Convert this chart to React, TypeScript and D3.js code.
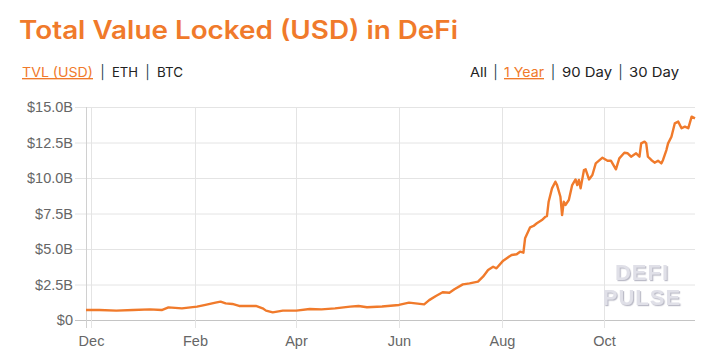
import React from "react";
import * as d3 from "d3";

const dates: string[] = [
  "2019-11-28","2019-12-06","2019-12-16","2019-12-26","2020-01-05","2020-01-12","2020-01-16","2020-01-24",
  "2020-02-02","2020-02-07","2020-02-13","2020-02-16","2020-02-19","2020-02-23","2020-02-27","2020-03-04",
  "2020-03-08","2020-03-12","2020-03-14","2020-03-18","2020-03-24","2020-04-01","2020-04-09","2020-04-16",
  "2020-04-24","2020-05-03","2020-05-08","2020-05-13","2020-05-22","2020-06-01","2020-06-07","2020-06-16",
  "2020-06-19","2020-06-23","2020-06-27","2020-07-01","2020-07-04","2020-07-09","2020-07-13","2020-07-18",
  "2020-07-21","2020-07-24","2020-07-27","2020-07-29","2020-08-02","2020-08-07","2020-08-10","2020-08-12",
  "2020-08-14","2020-08-15","2020-08-18","2020-08-20","2020-08-22","2020-08-25","2020-08-27","2020-08-28",
  "2020-08-29","2020-08-31","2020-09-02","2020-09-03","2020-09-05","2020-09-06","2020-09-07","2020-09-08",
  "2020-09-10","2020-09-12","2020-09-14","2020-09-15","2020-09-16","2020-09-17","2020-09-19","2020-09-20",
  "2020-09-22","2020-09-24","2020-09-26","2020-09-30","2020-10-03","2020-10-05","2020-10-08","2020-10-10",
  "2020-10-13","2020-10-15","2020-10-17","2020-10-20","2020-10-22","2020-10-23","2020-10-25","2020-10-26",
  "2020-10-27","2020-10-29","2020-10-31","2020-11-02","2020-11-04","2020-11-05","2020-11-07","2020-11-08",
  "2020-11-10","2020-11-12","2020-11-14","2020-11-16","2020-11-18","2020-11-20","2020-11-22","2020-11-24",
];

const tvlBillions: number[] = [
  0.70,0.70,0.66,0.70,0.75,0.70,0.89,0.82,
  0.94,1.06,1.22,1.29,1.17,1.13,0.99,0.99,
  0.99,0.82,0.66,0.54,0.66,0.66,0.77,0.75,
  0.82,0.94,0.99,0.90,0.95,1.06,1.22,1.10,
  1.40,1.69,1.95,1.92,2.16,2.51,2.58,2.70,
  3.05,3.52,3.75,3.64,4.18,4.58,4.63,4.81,
  4.74,5.75,6.53,6.62,6.81,7.04,7.27,7.32,
  8.33,9.27,9.74,9.50,8.68,7.39,8.33,8.10,
  8.45,9.50,9.90,9.50,9.86,9.27,10.56,10.61,
  9.90,10.21,11.03,11.43,11.22,11.22,10.61,11.38,
  11.78,11.74,11.50,11.74,11.50,12.44,12.56,12.44,
  11.50,11.27,11.08,11.22,11.03,11.27,11.97,12.44,
  12.91,13.85,13.97,13.50,13.62,13.50,14.32,14.20,
];

const xTickDates: string[] = ["2019-12-01","2020-02-01","2020-04-01","2020-06-01","2020-08-01","2020-10-01"];
const xTickLabels: string[] = ["Dec","Feb","Apr","Jun","Aug","Oct"];
const yTickValues: number[] = [0, 2.5, 5, 7.5, 10, 12.5, 15];
const yTickLabels: string[] = ["$0","$2.5B","$5.0B","$7.5B","$10.0B","$12.5B","$15.0B"];
const xDomain: string[] = ["2019-11-28","2020-11-24"];

const title = "Total Value Locked (USD) in DeFi";
const leftLinks: string[] = ["TVL (USD)", "ETH", "BTC"];
const rightLinks: string[] = ["All", "1 Year", "90 Day", "30 Day"];
const watermark: string[] = ["DEFI", "PULSE"];

const W = 717, H = 361;
const M = { left: 86, right: 695, top: 107, bottom: 320 };
const ORANGE = "#f07a2b";
const TEXT = "#222";
const SEP = "#2c4a52";
const parse = d3.timeParse("%Y-%m-%d");

export default function App() {
  const x = d3.scaleTime()
    .domain(xDomain.map((d) => parse(d) as Date))
    .range([M.left, M.right]);
  const y = d3.scaleLinear().domain([0, 15]).range([M.bottom, M.top]);
  const data = dates.map((d, i) => ({ date: parse(d) as Date, v: tvlBillions[i] }));
  const line = d3.line<{ date: Date; v: number }>()
    .x((d) => x(d.date))
    .y((d) => y(d.v))
    .curve(d3.curveLinear);

  const uiFont = "Inter, 'Open Sans', sans-serif";
  const axisFont = "'Liberation Sans', Arial, sans-serif";

  const leftX = [22, 112, 157];
  const leftW = [71, 26, 26];
  const rightX = [470, 504, 562, 629];
  const rightW = [17, 40, 50, 50];

  return (
    <svg width={W} height={H} style={{ position: "fixed", left: 0, top: 0, background: "#fff" }}>
      <defs>
        <filter id="wmShadow" x="-10%" y="-20%" width="130%" height="150%">
          <feDropShadow dx={1.2} dy={1.2} stdDeviation={0.2} floodColor="#bcbcc8" floodOpacity={1} />
        </filter>
      </defs>
      <rect width={W} height={H} fill="#fff" />
      <text x={19} y={39} fill={ORANGE} fontFamily={uiFont} fontWeight={600} fontSize={25}
        textLength={439} lengthAdjust="spacingAndGlyphs">{title}</text>

      {leftLinks.map((t, i) => (
        <g key={t}>
          <text x={leftX[i]} y={77} fill={i === 0 ? ORANGE : TEXT} fontFamily={uiFont} fontSize={13.5}
            textLength={leftW[i]} lengthAdjust="spacingAndGlyphs"
            textDecoration={i === 0 ? "underline" : undefined}>{t}</text>
          {i < leftLinks.length - 1 && (
            <text x={(leftX[i] + leftW[i] + leftX[i + 1]) / 2} y={77} textAnchor="middle" fill={SEP}
              fontFamily={uiFont} fontSize={13.5}>|</text>
          )}
        </g>
      ))}
      {rightLinks.map((t, i) => (
        <g key={t}>
          <text x={rightX[i]} y={77} fill={i === 1 ? ORANGE : TEXT} fontFamily={uiFont} fontSize={13.5}
            textLength={rightW[i]} lengthAdjust="spacingAndGlyphs"
            textDecoration={i === 1 ? "underline" : undefined}>{t}</text>
          {i < rightLinks.length - 1 && (
            <text x={(rightX[i] + rightW[i] + rightX[i + 1]) / 2} y={77} textAnchor="middle" fill={SEP}
              fontFamily={uiFont} fontSize={13.5}>|</text>
          )}
        </g>
      ))}

      {yTickValues.map((v, i) => (
        <g key={"y" + i}>
          <line x1={75} x2={M.right} y1={y(v) + 0.5} y2={y(v) + 0.5}
            stroke={v === 0 ? "#c4c4c4" : "#e4e4e4"} strokeWidth={1} />
          <text x={73} y={y(v)} dy="0.35em" textAnchor="end" fill="#666" fontFamily={axisFont}
            fontSize={14.5}>{yTickLabels[i]}</text>
        </g>
      ))}
      {xTickDates.map((d, i) => {
        const xx = Math.round(x(parse(d) as Date)) + 0.5;
        return (
          <g key={"x" + i}>
            <line x1={xx} x2={xx} y1={M.top} y2={M.bottom + 8} stroke="#e4e4e4" strokeWidth={1} />
            <text x={xx} y={346} textAnchor="middle" fill="#666" fontFamily={axisFont}
              fontSize={14.5}>{xTickLabels[i]}</text>
          </g>
        );
      })}
      <line x1={M.left + 0.5} x2={M.left + 0.5} y1={M.top} y2={M.bottom + 8} stroke="#d0d0d0" strokeWidth={1} />

      <g fontFamily="'Liberation Sans', Arial, sans-serif" fontWeight={700} fontSize={22} textAnchor="middle"
        letterSpacing={1} fill="#e0e0e8" filter="url(#wmShadow)">
        <text x={642} y={280}>{watermark[0]}</text>
        <text x={642} y={305}>{watermark[1]}</text>
      </g>

      <path d={line(data) || ""} fill="none" stroke={ORANGE} strokeWidth={2.4} strokeLinejoin="round" />
    </svg>
  );
}
